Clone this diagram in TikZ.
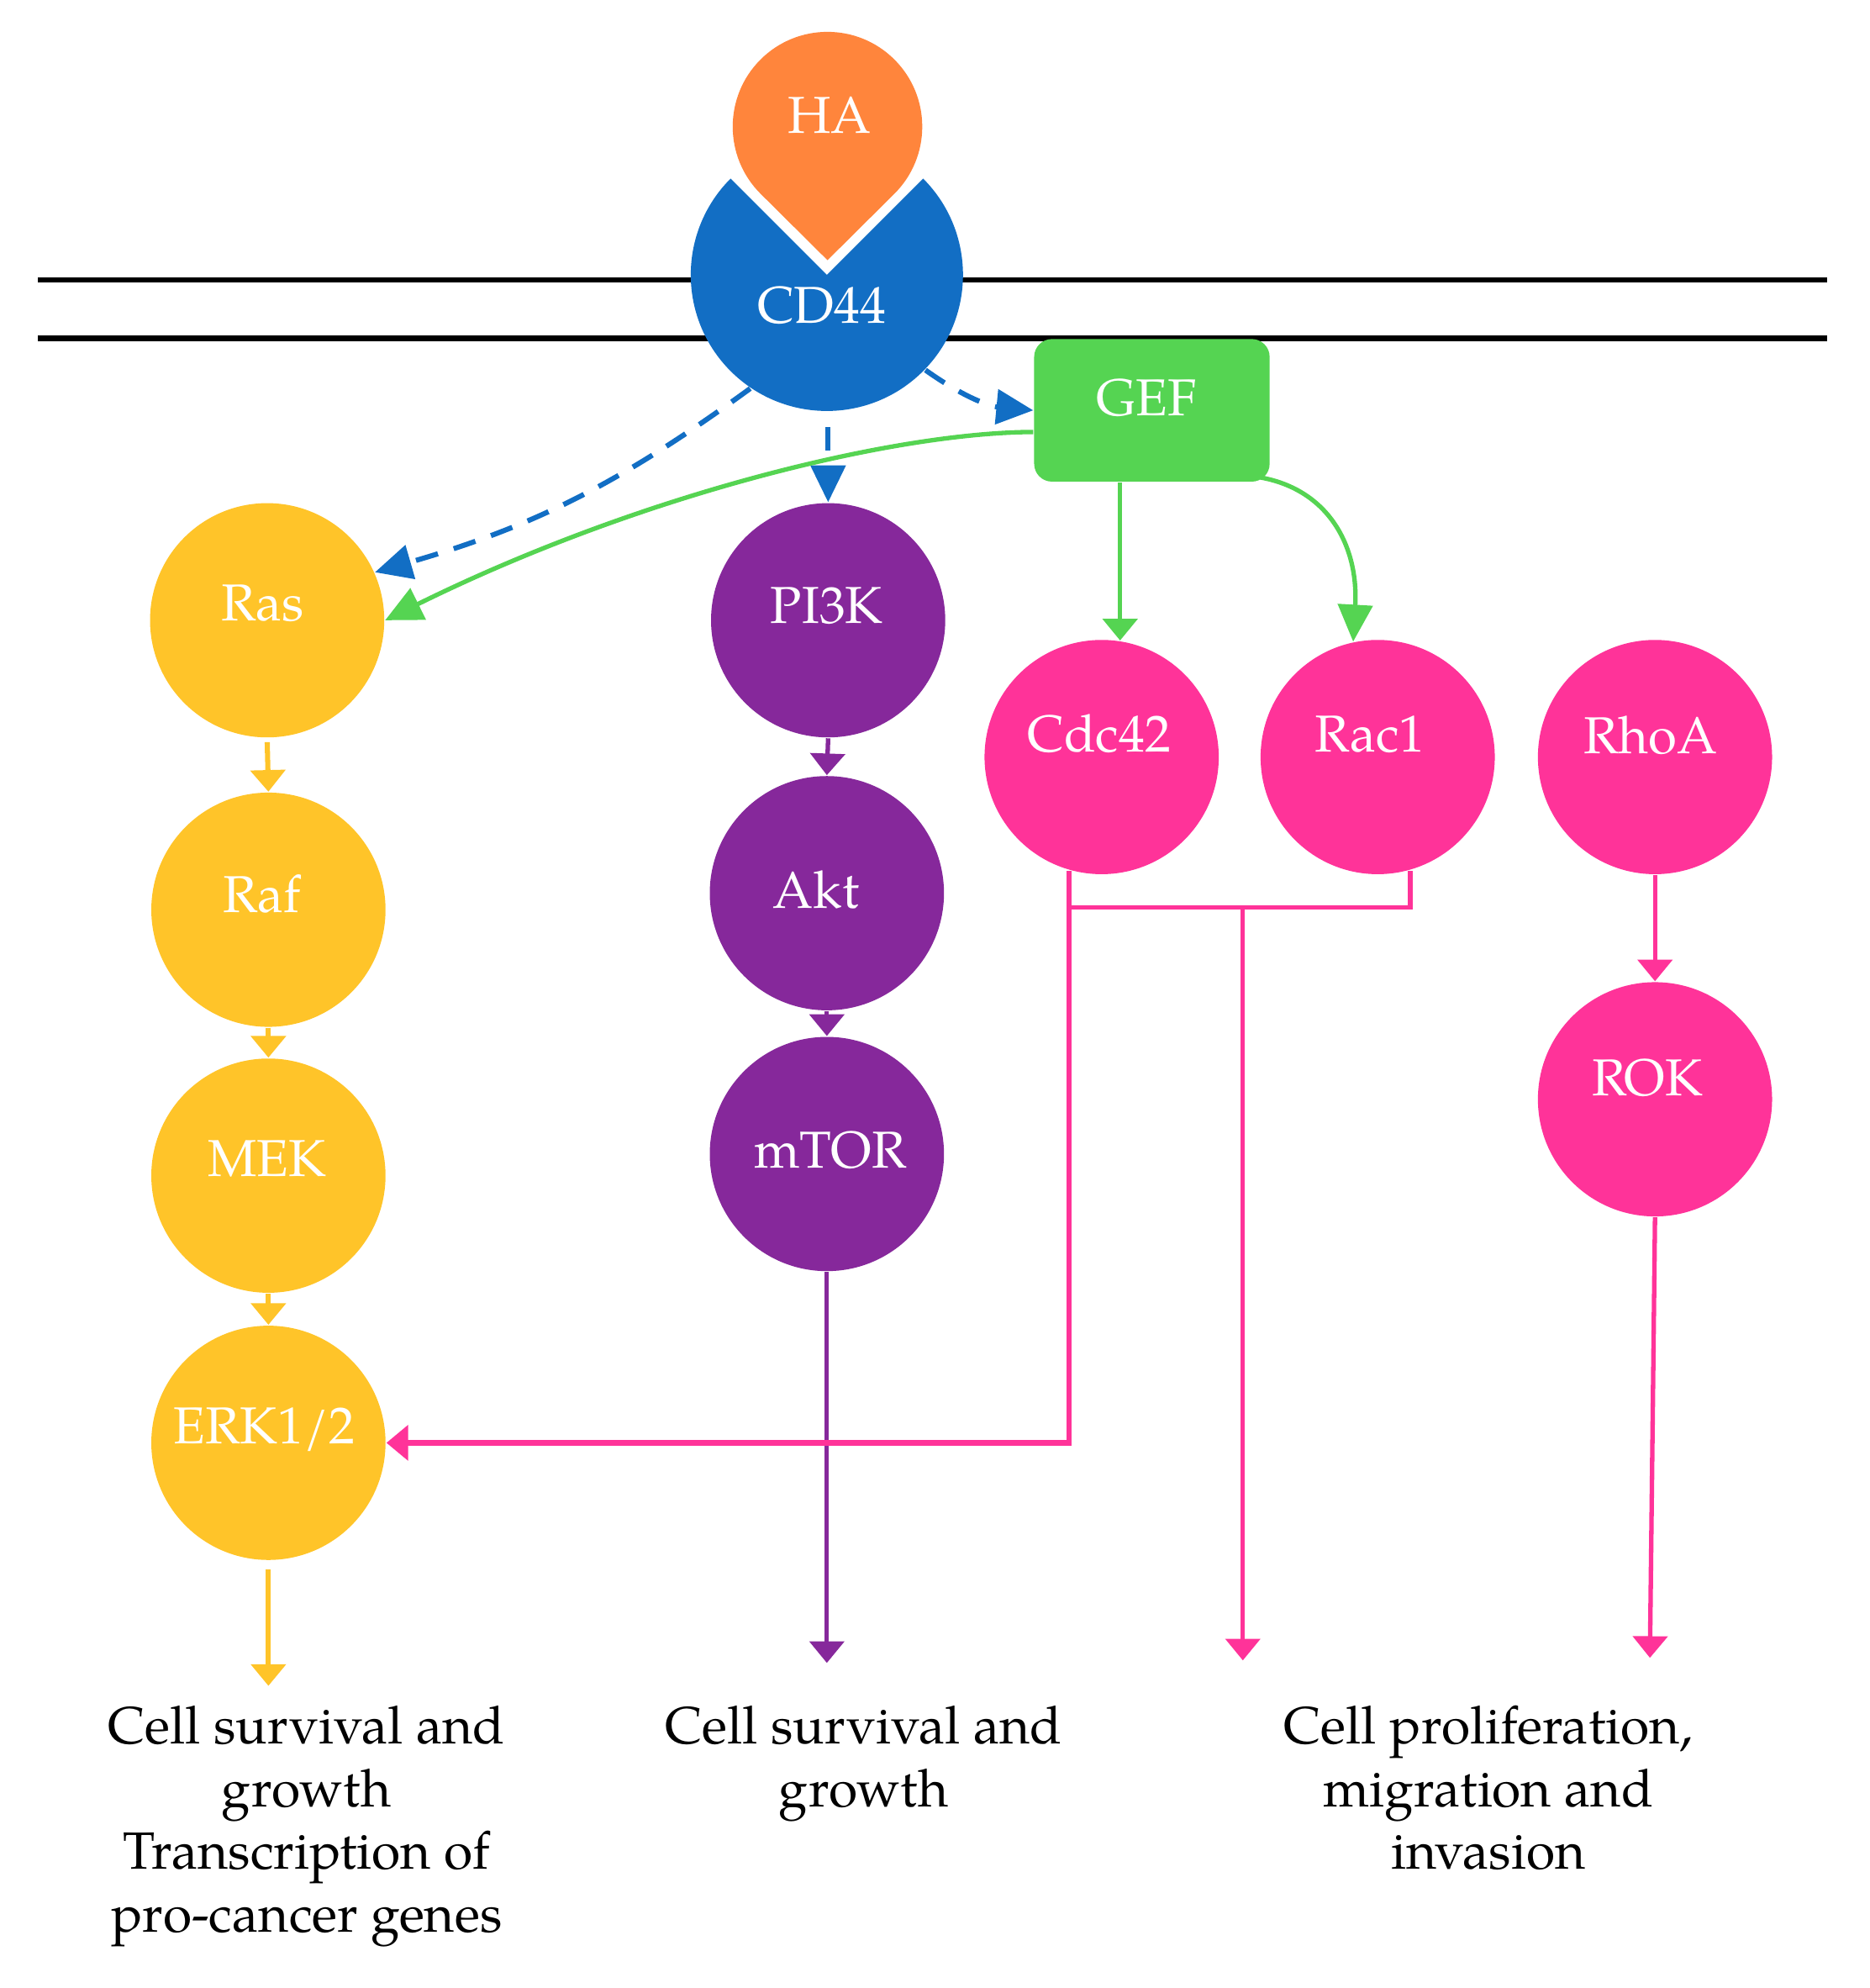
\documentclass[tikz,border=0pt]{standalone}
\usepackage{fontspec}
\setmainfont{TeX Gyre Pagella}
\usetikzlibrary{arrows.meta}
\definecolor{haor}{RGB}{255,133,60}
\definecolor{cdblue}{RGB}{18,110,196}
\definecolor{gefgreen}{RGB}{85,212,82}
\definecolor{yel}{RGB}{255,196,41}
\definecolor{purp}{RGB}{134,40,155}
\definecolor{pnk}{RGB}{255,51,153}
\begin{document}
\begin{tikzpicture}[x=0.01cm,y=0.01cm,
  nd/.style={circle, minimum size=1.84cm, inner sep=0pt, draw=none},
  ynd/.style={nd, fill=yel},
  pnd/.style={nd, fill=purp},
  knd/.style={nd, fill=pnk},
  lbl/.style={text=white, font=\fontsize{11.6}{14}\selectfont, inner sep=0pt, text height=8pt, text depth=0pt},
  outtxt/.style={align=center, font=\fontsize{11.7}{14}\selectfont, inner sep=0pt, anchor=north},
  smalltip/.style={-{Triangle[length=0.17cm,width=0.27cm]}},
  bigtip/.style={-{Triangle[length=0.29cm,width=0.27cm]}},
  ya/.style={draw=yel, line width=0.04cm, smalltip},
  pa/.style={draw=purp, line width=0.035cm, smalltip},
  ka/.style={draw=pnk, line width=0.035cm, smalltip},
  kl/.style={draw=pnk, line width=0.035cm},
  ba/.style={draw=cdblue, line width=0.04cm, dash pattern=on 0.18cm off 0.13cm, bigtip},
  ga/.style={draw=gefgreen, line width=0.035cm},
  membrane/.style={draw=black, line width=0.045cm},
  gefbox/.style={fill=gefgreen, rounded corners=0.14cm, minimum width=1.85cm, minimum height=1.12cm, inner sep=0pt}
]
\useasboundingbox (0,0) rectangle (1470,-1562.5);

% membrane
\draw[membrane] (30,-220) -- (1436,-220);
\draw[membrane] (30,-266) -- (1436,-266);

% CD44 receptor (circle with a notch)
\fill[cdblue] (650,-216) -- ++(135:107) arc[start angle=135, end angle=405, radius=107] -- cycle;
\node[circle, minimum size=2.14cm, inner sep=0pt] (cd44) at (650,-216) {};
% HA drop
\fill[haor] (650.5,-204.5) -- (597.8,-152.2) arc[start angle=225, end angle=-45, radius=74.5] -- cycle;

% GEF
\node[gefbox] (gef) at (905.5,-322.5) {};

% nodes
\node[ynd] (ras) at (210,-487.5) {};
\node[ynd] (raf) at (211,-715) {};
\node[ynd] (mek) at (211,-924) {};
\node[ynd] (erk) at (211,-1134) {};
\node[pnd] (pi3k) at (651,-487.5) {};
\node[pnd] (akt) at (650,-702) {};
\node[pnd] (mtor) at (650,-907) {};
\node[knd] (cdc42) at (866,-595) {};
\node[knd] (rac1) at (1083,-595) {};
\node[knd] (rhoa) at (1301,-595) {};
\node[knd] (rok) at (1301,-864) {};

% labels
\node[lbl] (ha-t) at (652,-90.5) {HA};
\node[lbl] (cd44-t) at (646,-240) {CD44};
\node[lbl] (gef-t) at (901,-312.5) {GEF};
\node[lbl] (ras-t) at (206.5,-474) {Ras};
\node[lbl] (raf-t) at (206,-703) {Raf};
\node[lbl] (mek-t) at (210,-910.5) {MEK};
\node[lbl] (erk-t) at (207.6,-1120.5) {ERK1/2};
\node[lbl] (pi3k-t) at (650,-476) {PI3K};
\node[lbl] (akt-t) at (641.5,-700) {Akt};
\node[lbl] (mtor-t) at (652.6,-904) {mTOR};
\node[lbl] (cdc42-t) at (864,-577) {Cdc42};
\node[lbl] (rac1-t) at (1077,-577) {Rac1};
\node[lbl] (rhoa-t) at (1297.6,-578) {RhoA};
\node[lbl] (rok-t) at (1295,-847) {ROK};

% free ends
\coordinate (out1) at (211,-1325);
\coordinate (out2) at (650,-1307);
\coordinate (out3) at (977,-1305);
\coordinate (out4) at (1297,-1303);
\coordinate (jn) at (977,-713);

% CD44 dashed arrows
\draw[ba] (cd44.-44) to[bend right=15] (gef.west);
\draw[ba, shorten <=0.12cm] (pi3k.north |- cd44.south) -- (pi3k.north);
\draw[ba] (cd44.236) to[bend left=10] (ras.24);

% GEF arrows
\draw[ga, bigtip] ([yshift=-0.17cm]gef.west) .. controls (700,-340) and (500,-390) .. (ras.east);
\draw[ga, smalltip] (cdc42.81 |- gef.south) -- (cdc42.81);
\draw[ga, bigtip] ([xshift=-0.08cm,yshift=0.04cm]gef.south east) .. controls (1045,-385) and (1068,-430) .. (rac1.102);

% Ras pathway
\draw[ya, shorten <=0.03cm] (ras.south) -- (raf.north);
\draw[ya] (raf.south) -- (mek.north);
\draw[ya] (mek.south) -- (erk.north);
\draw[ya, shorten <=0.07cm] (erk.south) -- (out1);

% PI3K pathway
\draw[pa] (pi3k.south) -- (akt.north);
\draw[pa] (akt.south) -- (mtor.north);
\draw[pa] (mtor.south) -- (out2);

% Rho GTPases
\draw[ka] (rhoa.south) -- (rok.north);
\draw[ka] (rok.south) -- (out4);
\draw[kl] (cdc42.254) -- (cdc42.254 |- jn) -- (rac1.286 |- jn) -- (rac1.286);
\draw[ka] (jn) -- (out3);
\draw[ka, line width=0.045cm] (cdc42.254 |- jn) -- (cdc42.254 |- erk.east) -- (erk.east);

% outcomes
\node[outtxt] (t1) at (241,-1340) {Cell survival and\\growth\\Transcription of\\pro-cancer genes};
\node[outtxt] (t2) at (679,-1340) {Cell survival and\\growth};
\node[outtxt] (t3) at (1170,-1340) {Cell proliferation,\\migration and\\invasion};
\end{tikzpicture}
\end{document}
